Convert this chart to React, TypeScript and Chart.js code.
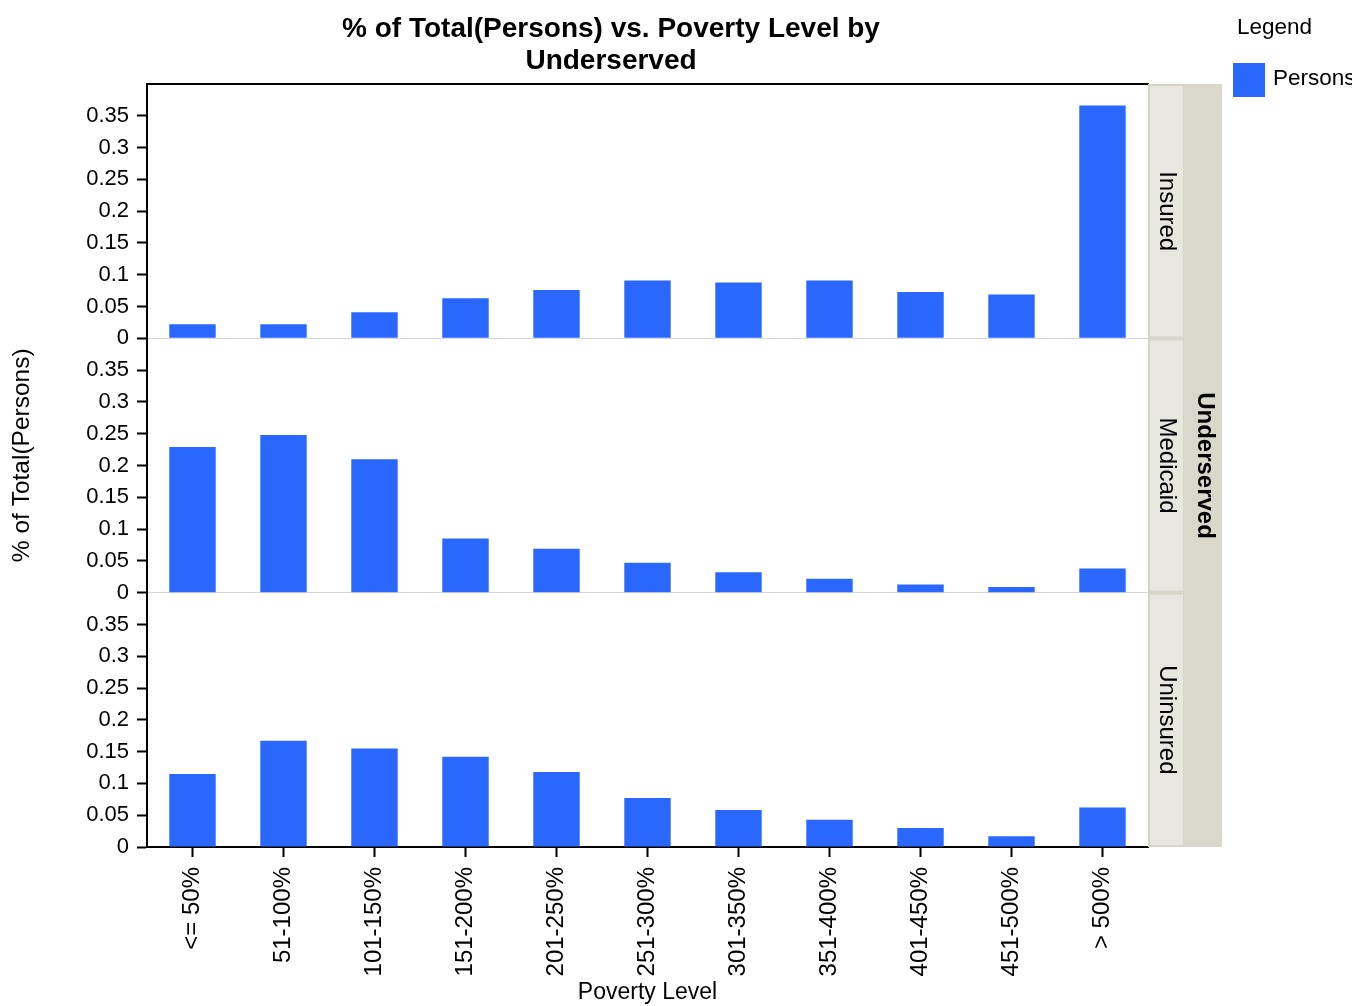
import React, { useEffect, useRef } from 'react';
import { Chart, registerables } from 'chart.js';

Chart.register(...registerables);

const categories = ['<= 50%', '51-100%', '101-150%', '151-200%', '201-250%', '251-300%', '301-350%', '351-400%', '401-450%', '451-500%', '> 500%'];
const insured = [0.022, 0.022, 0.041, 0.063, 0.076, 0.091, 0.088, 0.091, 0.073, 0.069, 0.366];
const medicaid = [0.229, 0.248, 0.210, 0.085, 0.069, 0.047, 0.032, 0.022, 0.013, 0.009, 0.038];
const uninsured = [0.115, 0.167, 0.155, 0.142, 0.118, 0.077, 0.058, 0.043, 0.030, 0.017, 0.062];
const panelNames = ['Insured', 'Medicaid', 'Uninsured'];
const facetTitle = 'Underserved';
const seriesName = 'Persons';
const titleLines = ['% of Total(Persons) vs. Poverty Level by', 'Underserved'];
const yTitle = '   % of Total(Persons)';
const xTitle = 'Poverty Level';

const FONT = '"Liberation Sans", Arial, Helvetica, sans-serif';
const BLUE = '#2967FF';
const panelIds = ['yIns', 'yMed', 'yUni'];

function mkY(weight: number, zeroLine: boolean, withTitle: boolean) {
  return {
    type: 'linear',
    position: 'left',
    stack: 'panels',
    stackWeight: 1,
    weight,
    min: 0,
    max: 0.4,
    afterBuildTicks: (s: any) => {
      s.ticks = s.ticks.filter((t: any) => t.value < 0.39);
    },
    afterFit: (s: any) => {
      s.width = 147;
    },
    ticks: {
      stepSize: 0.05,
      autoSkip: false,
      color: '#000',
      padding: 8,
      font: { family: FONT, size: 22 },
      callback: (v: any) => String(parseFloat(Number(v).toFixed(2))),
    },
    grid: {
      display: true,
      drawOnChartArea: zeroLine,
      color: (c: any) => (c.tick && Math.abs(c.tick.value) < 1e-9 ? '#d6d6d6' : 'rgba(0,0,0,0)'),
      lineWidth: 1,
      tickColor: '#000',
      tickLength: 10,
      tickWidth: 2,
    },
    border: { display: true, color: '#000', width: 2 },
    title: {
      display: withTitle,
      text: yTitle,
      color: '#000',
      font: { family: FONT, size: 24.5 },
      padding: { top: 8, bottom: 0 },
    },
  };
}

const stripPlugin = {
  id: 'strips',
  afterDraw(chart: any) {
    const ctx = chart.ctx as CanvasRenderingContext2D;
    const area = chart.chartArea;
    const x0 = area.right;
    ctx.save();
    ctx.fillStyle = '#DAD8CA';
    ctx.fillRect(x0, area.top, 74, area.bottom - area.top);
    panelIds.forEach((id, i) => {
      const s = chart.scales[id];
      ctx.fillStyle = '#D6D5C7';
      ctx.fillRect(x0, s.top, 36, s.bottom - s.top);
      ctx.fillStyle = '#E7E7E0';
      ctx.fillRect(x0 + 2, s.top + 2, 33, s.bottom - s.top - 4);
      ctx.save();
      ctx.translate(x0 + 19, (s.top + s.bottom) / 2);
      ctx.rotate(Math.PI / 2);
      ctx.fillStyle = '#000';
      ctx.font = `24px ${FONT}`;
      ctx.textAlign = 'center';
      ctx.textBaseline = 'middle';
      ctx.fillText(panelNames[i], 0, 0);
      ctx.restore();
    });
    ctx.save();
    ctx.translate(x0 + 57, (area.top + area.bottom) / 2);
    ctx.rotate(Math.PI / 2);
    ctx.fillStyle = '#000';
    ctx.font = `bold 24px ${FONT}`;
    ctx.textAlign = 'center';
    ctx.textBaseline = 'middle';
    ctx.fillText(facetTitle, 0, 0);
    ctx.restore();

    // legend
    ctx.fillStyle = '#000';
    ctx.font = `22.5px ${FONT}`;
    ctx.textAlign = 'left';
    ctx.textBaseline = 'middle';
    ctx.fillText('Legend', 1237, 28);
    ctx.fillStyle = BLUE;
    ctx.fillRect(1233, 63, 32, 34);
    ctx.beginPath();
    ctx.rect(1228, 50, 124, 60);
    ctx.clip();
    ctx.fillStyle = '#000';
    ctx.fillText(seriesName, 1273, 79);
    ctx.restore();
  },
};

export default function App() {
  const ref = useRef<HTMLCanvasElement>(null);
  useEffect(() => {
    const mk = (data: number[], yId: string) => ({
      label: seriesName,
      data,
      xAxisID: 'x',
      yAxisID: yId,
      backgroundColor: BLUE,
      borderWidth: 0,
      barPercentage: 0.51,
      categoryPercentage: 1,
      grouped: false,
    });
    const chart = new Chart(ref.current as HTMLCanvasElement, {
      type: 'bar',
      data: {
        labels: categories,
        datasets: [mk(insured, 'yIns'), mk(medicaid, 'yMed'), mk(uninsured, 'yUni')],
      },
      options: {
        responsive: false,
        maintainAspectRatio: false,
        devicePixelRatio: 1,
        animation: false,
        layout: { padding: { top: 0, left: 0, right: 147, bottom: 0 } },
        plugins: {
          legend: { display: false },
          tooltip: { enabled: false },
          title: {
            display: true,
            text: titleLines,
            color: '#000',
            font: { family: FONT, size: 28, weight: 'bold', lineHeight: 32 / 28 },
            padding: { top: 13, bottom: 7 },
          },
        },
        scales: {
          x: {
            type: 'category',
            position: 'bottom',
            offset: true,
            afterFit: (s: any) => {
              s.height = 159;
            },
            ticks: {
              autoSkip: false,
              minRotation: 90,
              maxRotation: 90,
              color: '#000',
              padding: 10,
              font: { family: FONT, size: 24 },
            },
            grid: {
              display: true,
              offset: false,
              drawOnChartArea: false,
              tickColor: '#000',
              tickLength: 10,
              tickWidth: 2,
            },
            border: { display: true, color: '#000', width: 2 },
            title: {
              display: true,
              text: xTitle,
              color: '#000',
              font: { family: FONT, size: 23 },
              padding: { top: 0, bottom: 0 },
            },
          },
          xTop: {
            type: 'category',
            position: 'top',
            offset: true,
            afterFit: (s: any) => {
              s.height = 0;
            },
            ticks: { display: false },
            grid: { display: false },
            border: { display: true, color: '#000', width: 2 },
          },
          yIns: mkY(3, true, false),
          yMed: mkY(2, true, true),
          yUni: mkY(1, false, false),
          yPad: {
            type: 'linear',
            position: 'right',
            afterFit: (s: any) => {
              s.width = 74;
            },
            ticks: { display: false },
            grid: { display: false },
            border: { display: false },
          },
        } as any,
      },
      plugins: [stripPlugin],
    } as any);
    return () => chart.destroy();
  }, []);
  return (
    <div style={{ position: 'absolute', left: 0, top: 0, width: 1369, height: 1006, background: '#fff' }}>
      <canvas ref={ref} width={1369} height={1006} style={{ display: 'block', width: 1369, height: 1006 }} />
    </div>
  );
}
